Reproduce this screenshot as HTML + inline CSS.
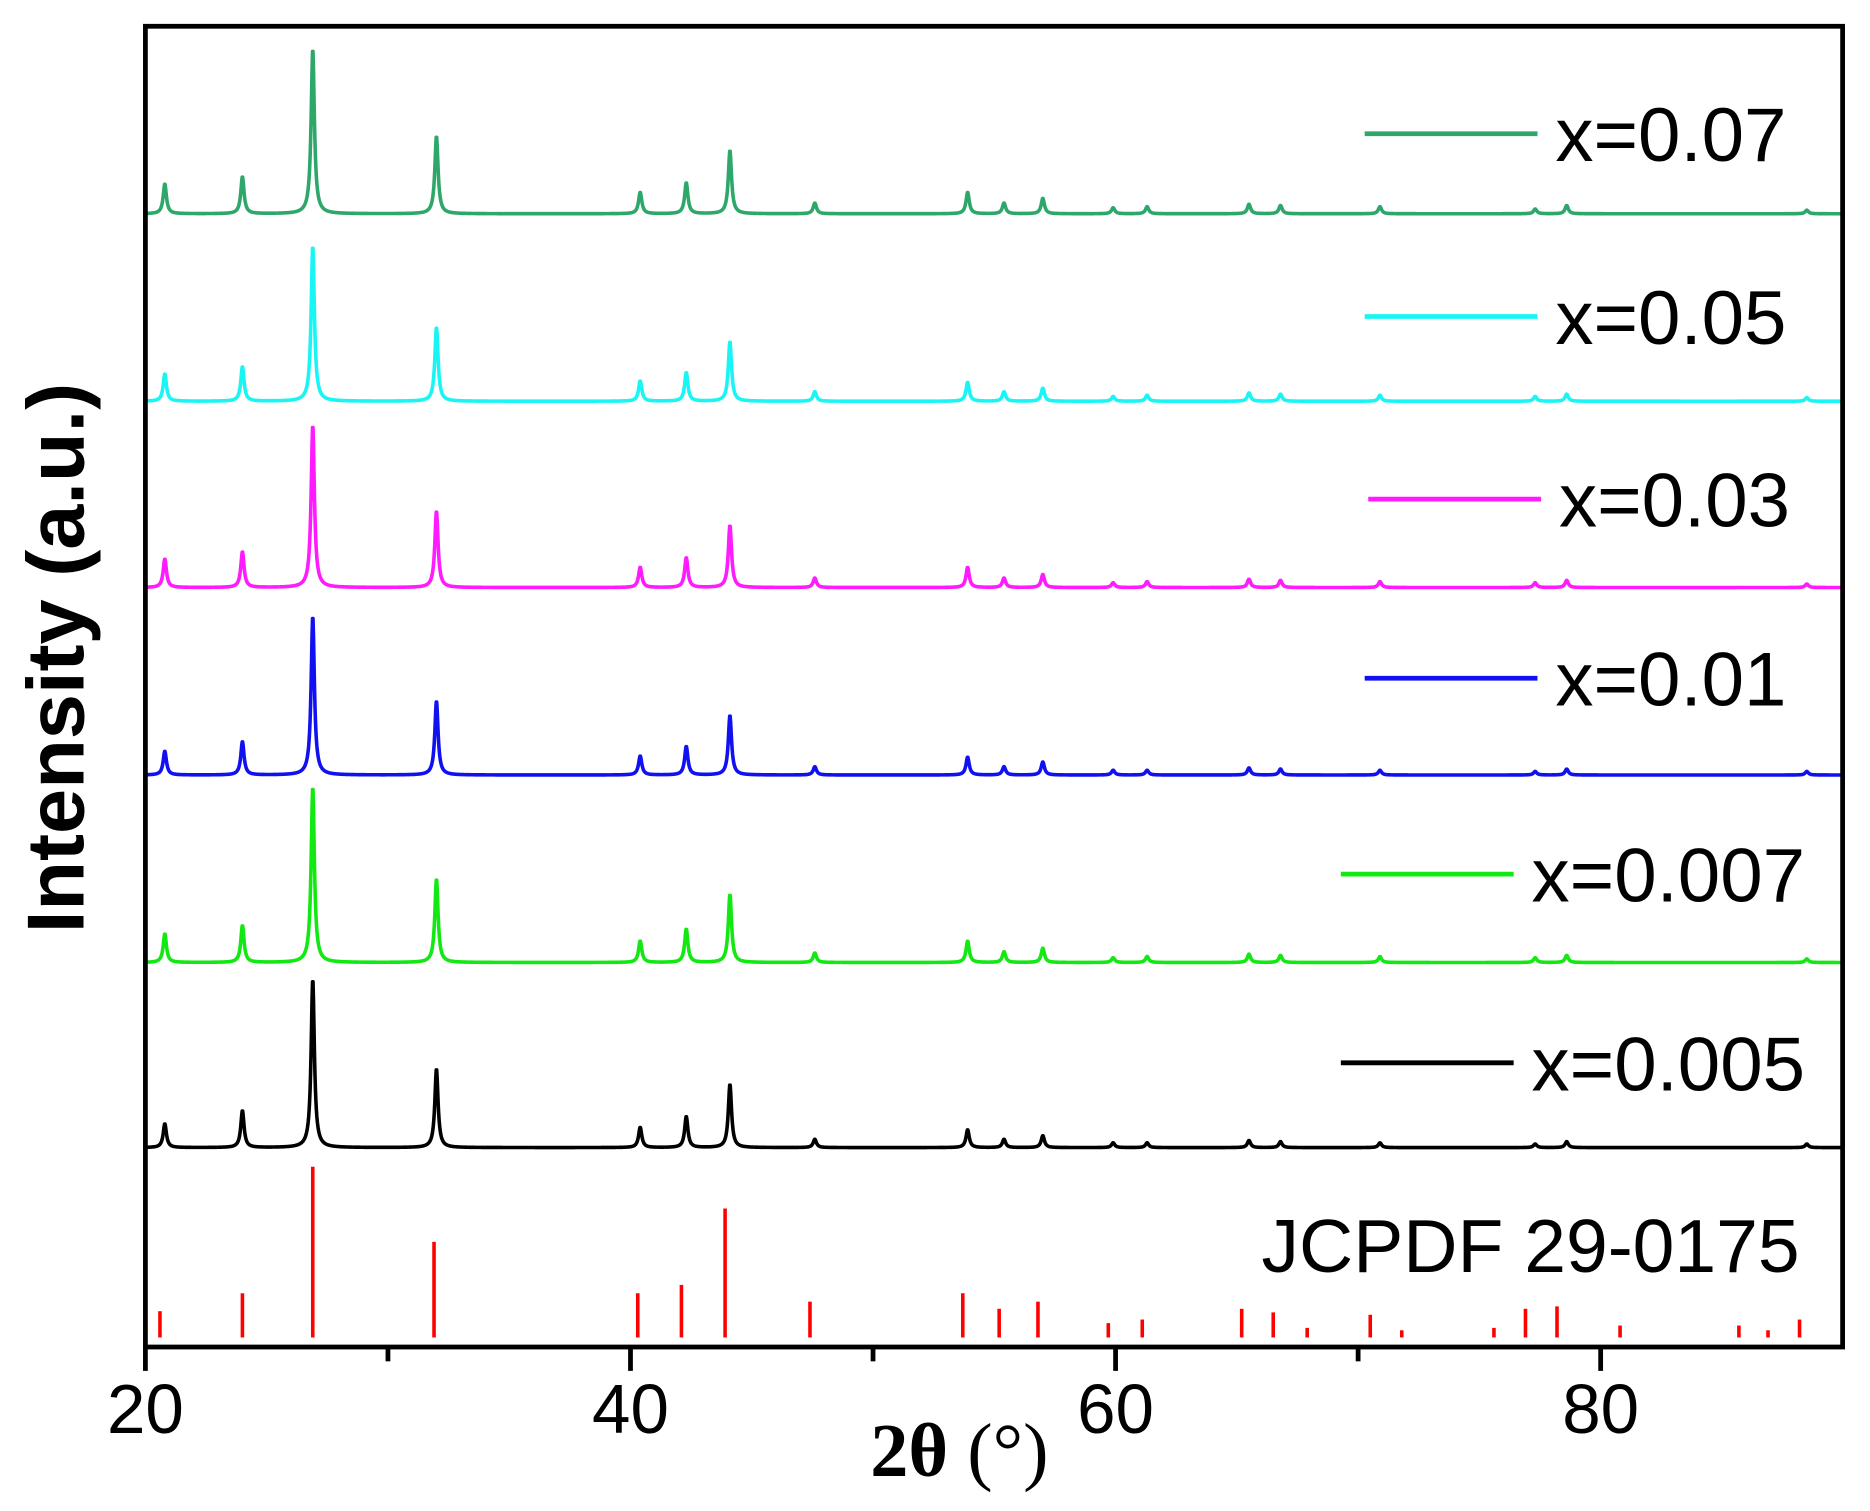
<!DOCTYPE html>
<html><head><meta charset="utf-8"><style>
html,body{margin:0;padding:0;background:#fff;}
svg{display:block;}
text{font-family:"Liberation Sans",Arial,sans-serif;}
</style></head><body>
<svg id="chart" width="1870" height="1511" viewBox="0 0 1558 1259" preserveAspectRatio="none" xmlns="http://www.w3.org/2000/svg">
<g transform="scale(0.993,0.995)">
<g id="series"></g>
<g id="refs"></g>
<rect x="122" y="22" width="1424" height="1106" fill="none" stroke="#000" stroke-width="4"/>
<g id="axes"></g>
<text x="805" y="1236" text-anchor="middle" style="font-family:'Liberation Serif',serif;font-weight:bold;font-size:64px">2θ <tspan style="font-weight:normal">(°)</tspan></text>
<text transform="translate(70,551) rotate(-90)" text-anchor="middle" style="font-weight:bold;font-size:68px">Intensity (a.u.)</text>
<text x="1510" y="1065" text-anchor="end" style="font-size:63px">JCPDF 29-0175</text>
<g id="legend"></g>
</g>
</svg>
<script>
const positions = [20.8,24.0,26.9,32.0,40.4,42.3,44.1,47.6,53.9,55.4,57.0,59.9,61.3,65.5,66.8,70.9,77.3,78.6,88.5];
const h007  = [25,31,138,65,18,26,53,9,18,9,13,5,6,8,7,6,4,7,3];
const h005  = [23,29,130,62,17,24,50,8,16,8,11,4,5,7,6,5,4,6,3];
const h003  = [24,30,136,64,17,25,52,8,17,8,11,4,5,7,6,5,4,6,3];
const h001  = [20,28,133,62,16,24,50,7,15,7,11,4,4,6,5,4,3,5,3];
const h0007 = [24,31,147,70,18,28,57,8,18,9,12,4,5,7,6,5,4,6,3];
const h0005 = [20,31,141,66,17,26,53,7,15,7,10,4,4,6,5,4,3,5,3];
const seriesNames = ["x=0.07","x=0.05","x=0.03","x=0.01","x=0.007","x=0.005"];
const seriesHeights = [h007,h005,h003,h001,h0007,h0005];
const seriesOffsets = [782,625,469,312,155,0];
const refPos = [20.6,24.0,26.9,31.9,40.3,42.1,43.9,47.4,53.7,55.2,56.8,59.7,61.1,65.2,66.5,67.9,70.5,71.8,75.6,76.9,78.2,80.8,85.7,86.9,88.2];
const refInt = [22,37,143,80,37,44,108,30,37,24,30,12,15,24,21,8,19,6,8,24,26,10,10,6,15];
const xTicks = [20,40,60,80];
const xMinor = [30,50,70];

const colors = ["#2ea86a","#19f5f5","#ff1aff","#1010f0","#12e812","#000000"];
const legendY = [112,265,418,568,732,890];
const legendX = [1145,1145,1148,1145,1125,1125];
const NS="http://www.w3.org/2000/svg";
const X0=122, PX=20.35, BASE0=961, REFBASE=1120;
const xs = v => X0+(v-20)*PX;
const ys = (off,v) => BASE0-off-v;
function mk(tag,attrs,parent){const e=document.createElementNS(NS,tag);for(const k in attrs)e.setAttribute(k,attrs[k]);parent.appendChild(e);return e;}
const sg=document.getElementById('series');
seriesHeights.forEach((hs,i)=>{
  let d="";const w=0.08;
  for(let t=20.05;t<=89.9;t+=0.02){
    let s=0;for(let j=0;j<positions.length;j++){const dx=t-positions[j];s+=hs[j]*w*w/(dx*dx+w*w);}
    d+=(d?"L":"M")+xs(t).toFixed(2)+","+ys(seriesOffsets[i],s).toFixed(2);
  }
  const p=mk('path',{d:d,fill:"none",stroke:colors[i],"stroke-width":3,"stroke-linejoin":"round"},sg);
  
  
});
const rg=document.getElementById('refs');
refPos.forEach((v,i)=>{
  const l=mk('line',{x1:xs(v),x2:xs(v),y1:REFBASE,y2:REFBASE-refInt[i],stroke:"#ff0000","stroke-width":3},rg);
  
  
});
const ag=document.getElementById('axes');
xTicks.forEach(v=>{
  const l=mk('line',{x1:xs(v),x2:xs(v),y1:1128,y2:1148,stroke:"#000","stroke-width":4},ag);
  
  
  const t=mk('text',{x:xs(v),y:1200,"text-anchor":"middle","font-size":58},ag);
  t.textContent=v;
  
  
});
xMinor.forEach(v=>{
  const l=mk('line',{x1:xs(v),x2:xs(v),y1:1128,y2:1140,stroke:"#000","stroke-width":4},ag);
  
  
});
const lg=document.getElementById('legend');
seriesNames.forEach((n,i)=>{
  const l=mk('line',{x1:legendX[i],x2:legendX[i]+145,y1:legendY[i],y2:legendY[i],stroke:colors[i],"stroke-width":4},lg);
  
  
  const t=mk('text',{x:legendX[i]+160,y:legendY[i]+23,"font-size":64},lg);
  t.textContent=n;
  
  
});
</script>
</body></html>
